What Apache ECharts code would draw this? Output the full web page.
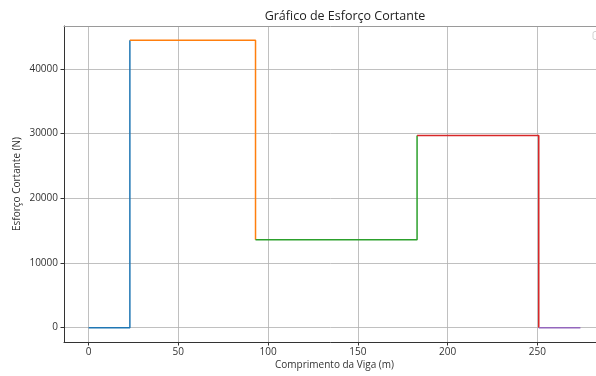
<!DOCTYPE html>
<html>
<head>
<meta charset="utf-8">
<script src="https://cdn.jsdelivr.net/npm/echarts@6/dist/echarts.min.js"></script>
<style>
  html, body { margin: 0; padding: 0; background: #fff; }
  #chart { width: 596px; height: 376px; }
</style>
</head>
<body>
<div id="chart"></div>
<script>
// Beam section boundaries along the length (m)
const sectionBounds = [0, 23, 93, 183, 250.8, 274];
// Shear force in each section (N)
const shearLevels = [0, 44400, 13600, 29700, 0];
// Tick values
const xTicks = [0, 50, 100, 150, 200, 250];
const yTicks = [0, 10000, 20000, 30000, 40000];
const sectionColors = ['#1f77b4', '#ff7f0e', '#2ca02c', '#d62728', '#9467bd'];

const FONT = '"Open Sans", "Noto Sans", sans-serif';

// Each section: horizontal run at its level, then the jump to the next level
const series = shearLevels.map((v, i) => {
  const pts = [[sectionBounds[i], v], [sectionBounds[i + 1], v]];
  if (i + 1 < shearLevels.length) pts.push([sectionBounds[i + 1], shearLevels[i + 1]]);
  return {
    type: 'line',
    data: pts,
    showSymbol: false,
    symbol: 'none',
    animation: false,
    lineStyle: { color: sectionColors[i], width: 1.5 },
    itemStyle: { color: sectionColors[i] }
  };
});

const chart = echarts.init(document.getElementById('chart'), null, { renderer: 'canvas' });
chart.setOption({
  backgroundColor: '#fff',
  animation: false,
  title: {
    text: 'Gráfico de Esforço Cortante',
    left: 340, top: 5, textAlign: 'center',
    textStyle: { fontFamily: FONT, fontSize: 12.5, fontWeight: 'normal', color: '#222' }
  },
  grid: { left: 64, top: 26, width: 541, height: 316, containLabel: false, outerBoundsMode: 'none' },
  xAxis: [{
    type: 'value', min: -13.7, max: 287.7,
    name: 'Comprimento da Viga (m)', nameLocation: 'middle', nameGap: 18, nameMoveOverlap: false,
    nameTextStyle: { fontFamily: FONT, fontSize: 10, color: '#333' },
    axisLine: { show: true, onZero: false, lineStyle: { color: '#333', width: 1 } },
    axisTick: { show: true, length: 3.5, customValues: xTicks, lineStyle: { color: '#333' } },
    axisLabel: { customValues: xTicks, fontFamily: FONT, fontSize: 10, color: '#333', margin: 5 },
    splitLine: { show: true, lineStyle: { color: '#b0b0b0', width: 0.8 } }
  }, {
    type: 'value', position: 'top', min: -13.7, max: 287.7,
    axisLine: { show: true, onZero: false, lineStyle: { color: '#9a9a9a', width: 1 } },
    axisTick: { show: false }, axisLabel: { show: false }, splitLine: { show: false }
  }],
  yAxis: {
    type: 'value', min: -2220, max: 46620,
    name: 'Esforço Cortante (N)', nameLocation: 'middle', nameGap: 42, nameMoveOverlap: false,
    nameTextStyle: { fontFamily: FONT, fontSize: 10, color: '#333' },
    axisLine: { show: true, onZero: false, lineStyle: { color: '#333', width: 1 } },
    axisTick: { show: true, length: 3.5, customValues: yTicks, lineStyle: { color: '#333' } },
    axisLabel: {
      customValues: yTicks, fontFamily: FONT, fontSize: 10, color: '#333', margin: 6,
      formatter: v => String(v)
    },
    splitLine: { show: true, lineStyle: { color: '#b0b0b0', width: 0.8 } }
  },
  graphic: [{
    type: 'rect', left: 592.5, top: 31,
    shape: { width: 12, height: 8, r: 2 },
    style: { fill: '#fff', stroke: '#d0d0d0', lineWidth: 1 }
  }],
  series: series
});
</script>
</body>
</html>
